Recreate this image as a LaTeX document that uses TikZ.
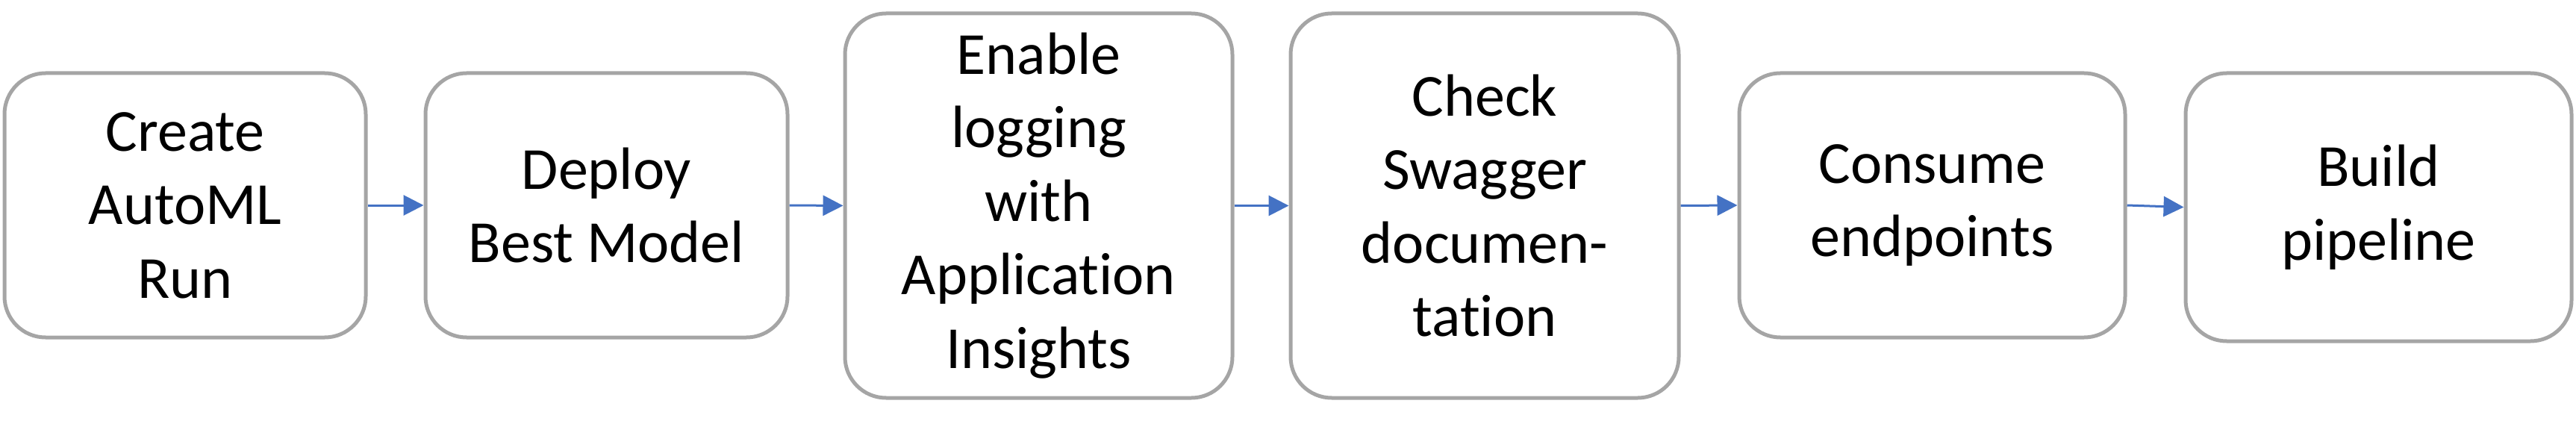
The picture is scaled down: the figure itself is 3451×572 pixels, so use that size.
\documentclass[tikz,border=0pt]{standalone}
\usepackage{fontspec}
\setmainfont{Carlito}[Ligatures={NoCommon}]
\usetikzlibrary{arrows.meta}
\definecolor{boxgray}{RGB}{165,165,165}
\definecolor{arrowblue}{RGB}{68,114,196}
\tikzset{
  stepbox/.style={draw=boxgray, line width=5pt, rounded corners=55pt, fill=white,
    align=center, inner sep=0pt, font=\fontsize{80}{98.5}\selectfont},
  flow/.style={draw=arrowblue, line width=3pt, -{Triangle[length=27pt,width=27pt]}}
}
\begin{document}
\begin{tikzpicture}[x=1pt,y=-1pt]
\useasboundingbox[fill=white] (0,0) rectangle (3451,572);
\node[stepbox, minimum width=484pt, minimum height=354pt] (b1) at (248,275) {Create\\AutoML\\Run};
\node[stepbox, minimum width=485pt, minimum height=354pt] (b2) at (812.5,275) {Deploy\\Best Model};
\node[stepbox, minimum width=519pt, minimum height=515pt] (b3) at (1391.5,275.5) {Enable\\logging\\with\\Application\\Insights};
\node[stepbox, minimum width=520pt, minimum height=515pt] (b4) at (1989,275.5) {Check\\Swagger\\documen-\\tation};
\node[stepbox, minimum width=517pt, minimum height=354pt] (b5) at (2588.5,275) {Consume\\endpoints};
\node[stepbox, minimum width=517pt, minimum height=359pt] (b6) at (3186.5,277.5) {Build\\pipeline};
\draw[flow] (b1.east) -- (b2.west);
\draw[flow] (b2.east) -- (b3.west);
\draw[flow] (b3.east) -- (b4.west);
\draw[flow] (b4.east) -- (b5.west);
\draw[flow] (b5.east) -- (b6.west);
\end{tikzpicture}
\end{document}
